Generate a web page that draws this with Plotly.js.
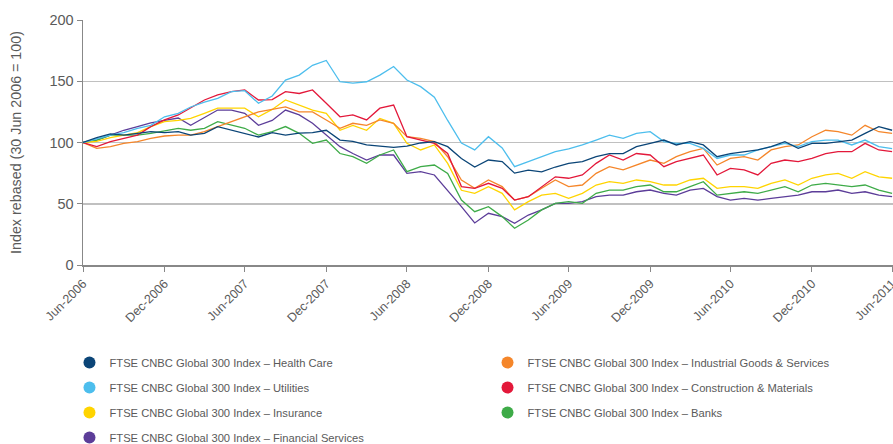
<!DOCTYPE html>
<html>
<head>
<meta charset="utf-8">
<script src="https://cdn.plot.ly/plotly-3.0.1.min.js"></script>
<style>
  html, body { margin: 0; padding: 0; background: #fff; }
  #chart { width: 893px; height: 444px; }
</style>
</head>
<body>
<div id="chart"></div>
<script>
var dates = [
  '2006-06-30', '2006-07-31', '2006-08-31', '2006-09-30', '2006-10-31', '2006-11-30',
  '2006-12-31', '2007-01-31', '2007-02-28', '2007-03-31', '2007-04-30', '2007-05-31',
  '2007-06-30', '2007-07-31', '2007-08-31', '2007-09-30', '2007-10-31', '2007-11-30',
  '2007-12-31', '2008-01-31', '2008-02-29', '2008-03-31', '2008-04-30', '2008-05-31',
  '2008-06-30', '2008-07-31', '2008-08-31', '2008-09-30', '2008-10-31', '2008-11-30',
  '2008-12-31', '2009-01-31', '2009-02-28', '2009-03-31', '2009-04-30', '2009-05-31',
  '2009-06-30', '2009-07-31', '2009-08-31', '2009-09-30', '2009-10-31', '2009-11-30',
  '2009-12-31', '2010-01-31', '2010-02-28', '2010-03-31', '2010-04-30', '2010-05-31',
  '2010-06-30', '2010-07-31', '2010-08-31', '2010-09-30', '2010-10-31', '2010-11-30',
  '2010-12-31', '2011-01-31', '2011-02-28', '2011-03-31', '2011-04-30', '2011-05-31',
  '2011-06-30'
];

var healthCare = [100, 104, 107, 106, 107.5, 108.8, 108, 108.8, 106, 107.5, 113, 110,
  107, 104.5, 108, 106, 107.7, 108, 110, 102, 101, 98, 97, 96,
  97, 99.6, 100.7, 96.6, 87, 80, 85.7, 84.4, 75, 77.5, 76, 80,
  83, 84.4, 88.4, 91, 91, 96.6, 99.3, 102, 98, 100.7, 98, 88.4,
  91, 92.5, 94, 96.6, 100.7, 95.2, 99.3, 99.3, 100.7, 102, 107.5, 113, 110];

var utilities = [100, 103, 106, 108, 111.6, 114, 121, 123.8, 129, 133, 136, 141.5,
  142.3, 132, 138, 151, 155, 163, 167, 149.6, 148.5, 149.6, 155, 162,
  151, 145.6, 137, 118, 99.6, 94, 104.7, 95.5, 80.3, 84.4, 88.4, 92.5,
  94.7, 98, 102, 106, 103.4, 107.5, 108.8, 100.7, 99.3, 99.3, 95.2, 87,
  89.8, 89.8, 93.9, 96.6, 99.3, 96.6, 100.7, 102, 102, 98, 102, 96.6, 95];

var insurance = [100, 101, 104, 106, 108, 113, 117, 118, 119.7, 123.8, 128, 128,
  128, 121, 127, 134.7, 130.6, 126.5, 123.8, 110, 114, 110, 119.7, 115.7,
  99.3, 93.9, 98, 83, 61, 58.5, 64, 58.5, 45, 51.7, 57, 58.5,
  54.4, 58.5, 65.3, 68, 66.7, 69.4, 68, 65.3, 65.3, 69.4, 70.8, 62.6,
  64, 64, 62.6, 66.7, 69.4, 65.3, 70.8, 73.5, 74.8, 70.8, 76.2, 72, 70.8];

var financialServices = [100, 102, 106, 110, 113, 116, 118, 120, 114, 120, 126.5, 126.5,
  123.8, 114, 118, 126.5, 122.5, 115.7, 106, 96.6, 91, 85.7, 89.8, 89.8,
  74.8, 76.2, 73.5, 61.2, 47.6, 34.3, 42.2, 39.5, 34, 40.8, 45, 50.3,
  50.3, 51.7, 55.8, 57, 57, 59.8, 61.2, 58.5, 57, 61.2, 62.6, 55.8,
  53, 54.4, 53, 54.4, 55.8, 57, 59.8, 59.8, 61.2, 58.5, 59.8, 57, 55.8];

var industrialGoods = [100, 95.2, 96.6, 99.3, 100.7, 103.4, 105.3, 106, 106, 108.8, 113, 117,
  121, 125, 127, 129, 125, 125, 118.4, 111.6, 115.7, 114, 118.4, 115.7,
  104.7, 103.4, 100.7, 88.4, 69.4, 62.6, 69.4, 64, 53, 55.8, 62.6, 69.4,
  64, 65.3, 74.8, 80.3, 77.6, 81.6, 85.7, 83, 88.4, 92.5, 95.2, 81.6,
  87, 88.4, 85.7, 93.9, 96.6, 98, 104.7, 110, 108.8, 106, 114, 108.8, 107.5];

var construction = [100, 96.6, 100.7, 103.4, 106, 113, 118.4, 122.5, 128, 134.7, 138.8, 141.5,
  142.9, 134.7, 135, 141.5, 140, 142.9, 132, 121, 122.5, 118.4, 128, 130.6,
  104.7, 102, 99.3, 91, 64, 62.6, 66.7, 62.6, 53, 55.8, 64, 72,
  70.8, 73.5, 83, 89.8, 85.7, 91, 89.8, 80.3, 84.4, 87, 89.8, 73.5,
  78.9, 77.6, 73.5, 83, 85.7, 84.4, 87, 91, 92.5, 92.5, 99.3, 93.9, 92.5];

var banks = [100, 102, 106, 106, 106, 107.5, 109.7, 111.6, 110, 111.6, 117, 114,
  111.6, 106, 108.8, 113, 107.5, 99.3, 102, 91, 88.4, 83, 89.8, 93.9,
  76.2, 80.3, 81.6, 74.8, 53, 43.5, 47.6, 39.5, 30, 36.7, 45, 50.3,
  51.7, 50.3, 58.5, 61.2, 61.2, 64, 65.3, 59.8, 59.8, 64, 68, 57,
  58.5, 59.8, 58.5, 61.2, 64, 59.8, 65.3, 66.7, 65.3, 64, 65.3, 61.2, 58.5];

var tickDates = ['2006-06-30', '2006-12-31', '2007-06-30', '2007-12-31', '2008-06-30', '2008-12-31',
  '2009-06-30', '2009-12-31', '2010-06-30', '2010-12-31', '2011-06-30'];
var tickLabels = ['Jun-2006', 'Dec-2006', 'Jun-2007', 'Dec-2007', 'Jun-2008', 'Dec-2008',
  'Jun-2009', 'Dec-2009', 'Jun-2010', 'Dec-2010', 'Jun-2011'];

var prefix = 'FTSE CNBC Global 300 Index \u2013 ';

// legend: left column -> 'legend', right column -> 'legend2'
var series = [
  { name: 'Health Care', y: healthCare, color: '#0b4577', legend: 'legend' },
  { name: 'Utilities', y: utilities, color: '#4dbeed', legend: 'legend' },
  { name: 'Insurance', y: insurance, color: '#ffd400', legend: 'legend' },
  { name: 'Financial Services', y: financialServices, color: '#5c3d99', legend: 'legend' },
  { name: 'Industrial Goods & Services', y: industrialGoods, color: '#f5862a', legend: 'legend2' },
  { name: 'Construction & Materials', y: construction, color: '#e3183a', legend: 'legend2' },
  { name: 'Banks', y: banks, color: '#3eab48', legend: 'legend2' }
];

// draw order: back to front
var drawOrder = [3, 6, 2, 4, 5, 1, 0];

var traces = [];
drawOrder.forEach(function (i) {
  var s = series[i];
  traces.push({
    x: dates,
    y: s.y,
    type: 'scatter',
    mode: 'lines',
    line: { color: s.color, width: 1.3 },
    showlegend: false,
    hoverinfo: 'skip'
  });
});

// legend entries shown as dots
series.forEach(function (s, i) {
  traces.push({
    x: [null],
    y: [null],
    type: 'scatter',
    mode: 'markers',
    name: prefix + s.name,
    legend: s.legend,
    legendgroup: 'g' + i,
    marker: { color: s.color, size: 12, symbol: 'circle' }
  });
});

var grey = '#5a5a5a';
var legendFont = { family: 'Liberation Sans, Arial, sans-serif', size: 11.2, color: grey };

var layout = {
  width: 893,
  height: 444,
  margin: { l: 83, r: 0, t: 20, b: 179, autoexpand: false },
  paper_bgcolor: '#fff',
  plot_bgcolor: '#fff',
  font: { family: 'Liberation Sans, Arial, sans-serif', size: 13, color: grey },
  xaxis: {
    type: 'date',
    range: ['2006-06-30', '2011-07-02'],
    tickvals: tickDates,
    ticktext: tickLabels,
    tickangle: -45,
    ticks: 'outside',
    ticklen: 5,
    tickcolor: '#888',
    ticklabeloverflow: 'allow',
    showgrid: false,
    showline: true,
    linecolor: '#888',
    linewidth: 1.5,
    zeroline: false,
    tickfont: { size: 12.5, color: grey }
  },
  yaxis: {
    range: [0, 200],
    tickvals: [0, 50, 100, 150, 200],
    ticks: 'outside',
    ticklen: 5,
    tickcolor: '#888',
    showgrid: true,
    gridcolor: '#c0c0c0',
    gridwidth: 1.5,
    showline: true,
    linecolor: '#888',
    linewidth: 1.5,
    zeroline: false,
    tickfont: { size: 14.5, color: grey },
    title: { text: 'Index rebased (30 Jun 2006 = 100)', font: { size: 14.3, color: grey }, standoff: 24 }
  },
  legend: {
    orientation: 'v',
    x: -0.0167,
    xanchor: 'left',
    y: -0.339,
    yanchor: 'top',
    traceorder: 'grouped',
    tracegroupgap: 6,
    font: legendFont,
    bgcolor: 'rgba(0,0,0,0)'
  },
  legend2: {
    orientation: 'v',
    x: 0.4994,
    xanchor: 'left',
    y: -0.339,
    yanchor: 'top',
    traceorder: 'grouped',
    tracegroupgap: 6,
    font: legendFont,
    bgcolor: 'rgba(0,0,0,0)'
  },
  showlegend: true
};

Plotly.newPlot('chart', traces, layout, { displayModeBar: false, staticPlot: true });
</script>
</body>
</html>
